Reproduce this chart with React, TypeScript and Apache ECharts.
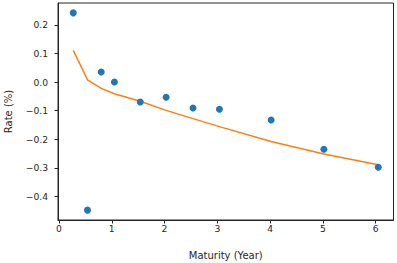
import React, { useEffect, useRef } from "react";
import * as echarts from "echarts";

const maturities = [0.27, 0.54, 0.8, 1.05, 1.54, 2.03, 2.54, 3.04, 4.02, 5.02, 6.05];
const observedRates = [0.242, -0.448, 0.035, 0.0, -0.07, -0.053, -0.091, -0.095, -0.133, -0.235, -0.298];
const fittedRates = [0.111, 0.008, -0.022, -0.041, -0.067, -0.099, -0.128, -0.156, -0.208, -0.252, -0.289];
const xTicks = [0, 1, 2, 3, 4, 5, 6];
const yTicks = [-0.4, -0.3, -0.2, -0.1, 0.0, 0.1, 0.2];

const FONT = "DejaVu Sans";
const fmtY = (v: number) => (v < -1e-9 ? "\u2212" : "") + Math.abs(v).toFixed(1);

export default function App() {
  const ref = useRef<HTMLDivElement>(null);
  useEffect(() => {
    if (!ref.current) return;
    const chart = echarts.init(ref.current, undefined, { renderer: "svg" });
    chart.setOption({
      animation: false,
      backgroundColor: "#ffffff",
      grid: {
        left: 58,
        right: 3.5,
        top: 3,
        bottom: 43,
        containLabel: false,
        outerBoundsMode: "none",
        show: true,
        borderColor: "#262626",
        borderWidth: 1,
        backgroundColor: "transparent",
      },
      xAxis: {
        type: "value",
        min: -0.019,
        max: 6.339,
        name: "Maturity (Year)",
        nameLocation: "middle",
        nameGap: 30,
        nameTextStyle: { fontFamily: FONT, fontSize: 10, color: "#262626" },
        axisLine: { show: true, onZero: false, lineStyle: { color: "#262626", width: 1 } },
        axisTick: { show: true, length: 3.5, customValues: xTicks, lineStyle: { color: "#262626" } },
        axisLabel: {
          customValues: xTicks,
          margin: 4,
          fontFamily: FONT,
          fontSize: 9.2,
          color: "#262626",
          formatter: (v: number) => String(Math.round(v)),
        },
        splitLine: { show: false },
      },
      yAxis: {
        type: "value",
        min: -0.4825,
        max: 0.2765,
        name: "Rate (%)",
        nameLocation: "middle",
        nameRotate: 90,
        nameGap: 45,
        nameTextStyle: { fontFamily: FONT, fontSize: 10, color: "#262626" },
        axisLine: { show: true, onZero: false, lineStyle: { color: "#262626", width: 1 } },
        axisTick: { show: true, length: 3.5, customValues: yTicks, lineStyle: { color: "#262626" } },
        axisLabel: {
          customValues: yTicks,
          margin: 10,
          fontFamily: FONT,
          fontSize: 9.2,
          color: "#262626",
          formatter: fmtY,
        },
        splitLine: { show: false },
      },
      series: [
        {
          type: "line",
          data: maturities.map((m, i) => [m, fittedRates[i]]),
          showSymbol: false,
          symbol: "none",
          lineStyle: { color: "#ff7f0e", width: 1.5 },
          z: 2,
        },
        {
          type: "scatter",
          data: maturities.map((m, i) => [m, observedRates[i]]),
          symbolSize: 7,
          itemStyle: { color: "#1f77b4", opacity: 1 },
          z: 3,
        },
      ],
    });
    return () => chart.dispose();
  }, []);
  return (
    <div
      ref={ref}
      style={{ position: "absolute", left: 0, top: 0, width: 397, height: 263 }}
    />
  );
}
